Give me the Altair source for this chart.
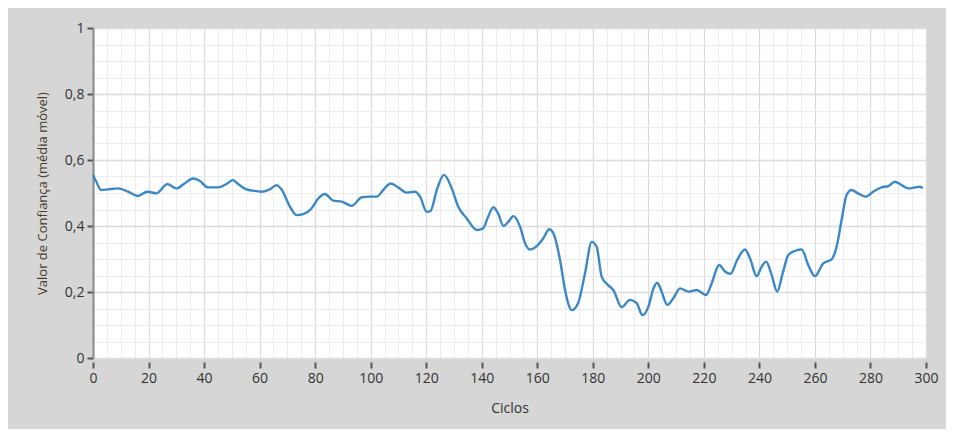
import altair as alt
import pandas as pd

# ---- data ----
ciclos = [0, 1.2, 3, 5.4, 9, 12.6, 16.2, 19.6, 22.8, 26.8, 30, 33, 36, 38.4, 41.4, 45, 48, 50.4,
          51.7, 55.3, 57.7, 60.7, 63.7, 66.1, 67.9, 70.9, 73.3, 75.7, 78.7, 81.2, 83.5, 86.5, 89.6,
          93.2, 96.8, 99.7, 102.2, 104.5, 107.2, 109.9, 113, 116, 117.8, 120.2, 121.6, 123.8, 126.4,
          129.2, 131.5, 134.6, 138.2, 140.5, 142.3, 144.2, 146, 147.8, 149.6, 151.4, 153.8, 155.6,
          157.4, 159.8, 162.2, 164.3, 165.8, 168.2, 170, 172.4, 174.7, 177.2, 179.6, 181.4, 183.2,
          185.5, 187.4, 190.4, 193.4, 195.8, 197.9, 200, 201.8, 203.2, 204.8, 206.8, 209, 211.4,
          214.4, 217.4, 220.8, 222.8, 225.5, 227.6, 229.6, 232, 234.8, 236.6, 239, 240.8, 242.4,
          244.4, 246.4, 248.4, 250.4, 253, 255.2, 257.6, 260, 263, 266, 267.8, 269.6, 271.4, 273.2,
          275.5, 278.3, 281, 284, 286.4, 288.8, 291.2, 293.6, 296, 297.8, 298.8]
valores = [0.555, 0.534, 0.509, 0.511, 0.514, 0.504, 0.491, 0.504, 0.499, 0.527, 0.514, 0.529, 0.544,
           0.537, 0.517, 0.517, 0.527, 0.539, 0.531, 0.511, 0.507, 0.504, 0.511, 0.524, 0.511, 0.459,
           0.433, 0.436, 0.453, 0.484, 0.497, 0.477, 0.474, 0.461, 0.487, 0.489, 0.489, 0.509, 0.529,
           0.517, 0.501, 0.504, 0.489, 0.443, 0.446, 0.509, 0.555, 0.514, 0.459, 0.423, 0.388, 0.393,
           0.428, 0.457, 0.436, 0.400, 0.413, 0.430, 0.398, 0.348, 0.329, 0.339, 0.363, 0.390, 0.378,
           0.297, 0.206, 0.145, 0.166, 0.257, 0.352, 0.337, 0.246, 0.221, 0.206, 0.154, 0.176, 0.166,
           0.130, 0.155, 0.210, 0.228, 0.201, 0.161, 0.181, 0.211, 0.201, 0.206, 0.191, 0.226, 0.282,
           0.262, 0.255, 0.297, 0.329, 0.302, 0.248, 0.277, 0.292, 0.252, 0.201, 0.257, 0.312, 0.325,
           0.329, 0.282, 0.248, 0.287, 0.299, 0.337, 0.418, 0.494, 0.509, 0.499, 0.489, 0.504, 0.517,
           0.521, 0.534, 0.524, 0.514, 0.517, 0.519, 0.514]

x_major = list(range(0, 301, 20))
x_minor = [v for v in range(0, 301, 5) if v % 20]
y_major = [0, 0.2, 0.4, 0.6, 0.8, 1]
y_minor = [0.05, 0.1, 0.15, 0.25, 0.3, 0.35, 0.45, 0.5, 0.55, 0.65, 0.7, 0.75, 0.85, 0.9, 0.95]

df = pd.DataFrame({"Ciclos": ciclos, "Valor": valores})

FONT = "Open Sans"
xscale = alt.Scale(domain=[0, 300], nice=False, zero=False)
yscale = alt.Scale(domain=[0, 1], nice=False)

minor = alt.Chart(df).mark_line(opacity=0).encode(
    x=alt.X("Ciclos:Q", scale=xscale,
            axis=alt.Axis(orient="top", values=x_minor, grid=True, gridColor="#ececec",
                          gridWidth=1, labels=False, ticks=False, domain=False, title=None)),
    y=alt.Y("Valor:Q", scale=yscale,
            axis=alt.Axis(orient="right", values=y_minor, grid=True, gridColor="#ececec",
                          gridWidth=1, labels=False, ticks=False, domain=False, title=None)),
)

main = alt.Chart(df).mark_line(color="#3b88c4", strokeWidth=2.4, interpolate="monotone").encode(
    x=alt.X("Ciclos:Q", scale=xscale,
            axis=alt.Axis(orient="bottom", values=x_major, grid=True, gridColor="#dcdcdc",
                          gridWidth=1.3, domain=False, ticks=True, tickSize=6, tickWidth=2,
                          tickColor="#555555", offset=4, labelPadding=3, labelFontSize=14,
                          labelFlush=False, labelOverlap=False,
                          labelColor="#333333", labelFont=FONT, format="d",
                          title="Ciclos", titleFontSize=14, titleFont=FONT,
                          titleFontWeight="normal", titleColor="#333333", titlePadding=16)),
    y=alt.Y("Valor:Q", scale=yscale,
            axis=alt.Axis(orient="left", values=y_major, grid=True, gridColor="#dcdcdc",
                          gridWidth=1.3, domain=True, domainColor="#888888", domainWidth=2,
                          ticks=True, tickSize=6, tickWidth=2, tickColor="#555555",
                          labelPadding=3, labelFontSize=14, labelColor="#333333", labelFont=FONT,
                          labelFlush=False, labelOverlap=False,
                          labelExpr="replace(format(datum.value, '~g'), '.', ',')",
                          title="Valor de Confiança (média móvel)", titleFontSize=13,
                          titleFont=FONT, titleFontWeight="normal", titleColor="#4a3a2a",
                          titlePadding=15)),
)

chart = alt.layer(minor, main).resolve_axis(x="independent", y="independent").properties(
    width=833, height=330,
    autosize=alt.AutoSizeParams(type="none"),
    padding={"left": 85, "top": 20, "right": 20, "bottom": 71},
    background="#d6d6d6",
).configure_view(fill="white", stroke=None)

chart.save("out.html", embed_options={"renderer": "svg", "actions": False})
